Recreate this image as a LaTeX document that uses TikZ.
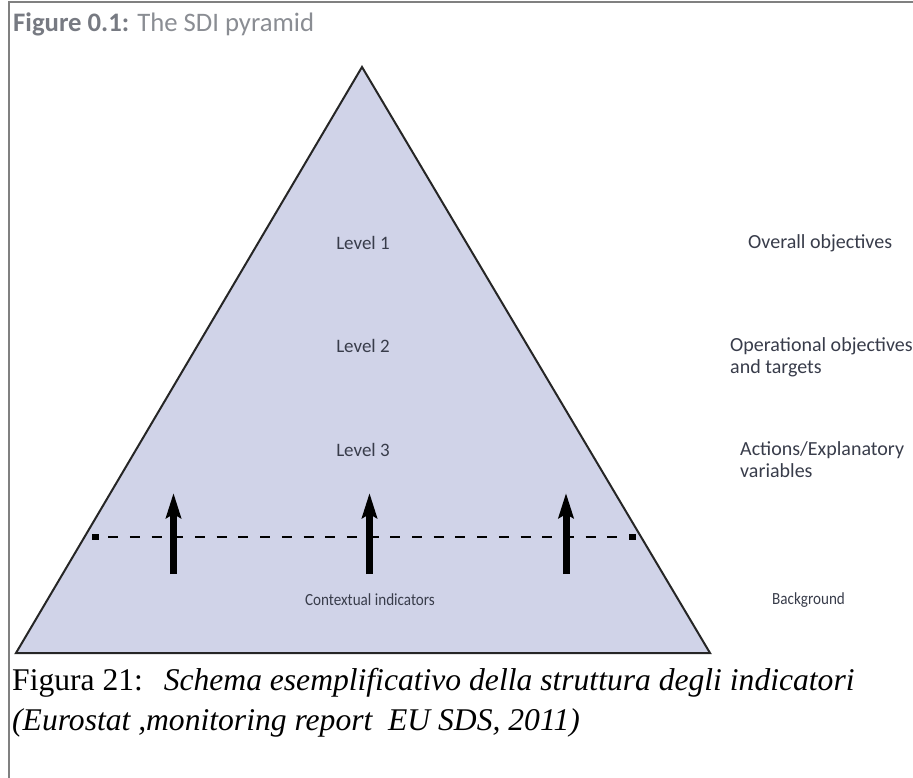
\documentclass[tikz,border=0pt]{standalone}
\usepackage{fontspec}
\setmainfont{Liberation Serif}
\newfontfamily\labelfont{Carlito}
\usetikzlibrary{arrows.meta}
\definecolor{pyrfill}{HTML}{D0D3E8}
\definecolor{labelgray}{HTML}{383C4A}
\definecolor{titlegray}{HTML}{8A8D93}
\definecolor{titledark}{HTML}{777A82}
\definecolor{framegray}{HTML}{808080}
% slightly narrowed text for the bottom row of labels
\newcommand{\narrowtext}[1]{\scalebox{0.89}[1]{#1}}

\begin{document}
\begin{tikzpicture}[x=1pt,y=-1pt,
  lvl/.style={font=\labelfont\fontsize{19}{22}\selectfont, text=labelgray, inner sep=0pt},
  baselbl/.style={lvl, font=\labelfont\fontsize{17}{20}\selectfont},
  sidelbl/.style={lvl, font=\labelfont\fontsize{20}{22}\selectfont, align=left, anchor=west},
  uparrow/.style={line width=7pt, -{Stealth[length=25pt,width=15pt,inset=4pt]}},
  dashline/.style={line width=2.5pt, dash pattern=on 10pt off 11.7pt},
  endmark/.style={fill=black, inner sep=0pt, minimum width=7pt, minimum height=6pt},
  caption/.style={font=\fontsize{31.6}{36}\selectfont, anchor=west, inner sep=0pt}]
\useasboundingbox (0,0) rectangle (913,778);

% frame lines
\draw[framegray, line width=2pt] (9,778) -- (9,2) -- (913,2);

% title
\node[anchor=base west, inner sep=0pt, font=\labelfont\fontsize{26.7}{30}\selectfont, text=titlegray]
  (title) at (13,32) {\textcolor{titledark}{\bfseries Figure 0.1:} The SDI pyramid};

% pyramid
\coordinate (apex) at (362,67);
\coordinate (bl) at (16,653);
\coordinate (br) at (710,653);
\draw[fill=pyrfill, draw=black!85, line width=2pt] (bl) -- (apex) -- (br) -- cycle;

% level labels
\node[lvl] (l1) at (363,243) {Level 1};
\node[lvl] (l2) at (363,346) {Level 2};
\node[lvl] (l3) at (363,450) {Level 3};
\node[baselbl] (ctx) at (370,600) {\narrowtext{Contextual indicators}};

% side labels
\node[sidelbl] (s1) at (748,243) {Overall objectives};
\node[sidelbl] (s2) at (730,357) {Operational objectives\\and targets};
\node[sidelbl] (s3) at (740,460) {Actions/Explanatory\\variables};
\node[baselbl, anchor=west] (s4) at (772,600) {\narrowtext{Background}};

% dashed boundary with end marks
\node[endmark] (dl) at (95.5,537) {};
\node[endmark] (dr) at (632.5,537) {};
\draw[dashline] (dl.east) ++(9,0) -- ([xshift=-2pt]dr.west);

% upward arrows
\foreach \n/\x in {a/173.5, b/369.5, c/566} {
  \coordinate (\n0) at (\x,574);
  \coordinate (\n1) at (\x,493);
  \draw[uparrow] (\n0) -- (\n1);
}

% caption
\node[caption] (cap1) at (12,683) {Figura 21:\ \ \hspace{5pt}\textit{Schema esemplificativo della struttura degli indicatori}};
\node[caption] (cap2) at (12,723) {\textit{(Eurostat ,monitoring report\ \ EU SDS, 2011)}};
\end{tikzpicture}
\end{document}
